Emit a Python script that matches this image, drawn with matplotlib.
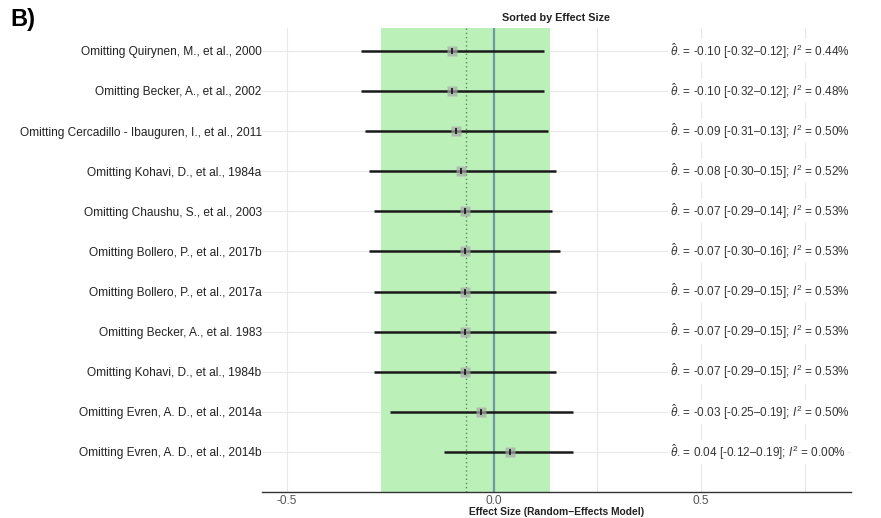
import matplotlib
matplotlib.use("Agg")
import matplotlib.pyplot as plt
from matplotlib.ticker import FixedLocator

plt.rcParams['font.family'] = ['Liberation Sans', 'DejaVu Sans']
plt.rcParams['mathtext.fontset'] = 'custom'
plt.rcParams['mathtext.rm'] = 'Liberation Sans'
plt.rcParams['mathtext.it'] = 'Liberation Sans:italic'

studies = [
    "Omitting Quirynen, M., et al., 2000",
    "Omitting Becker, A., et al., 2002",
    "Omitting Cercadillo - Ibauguren, I., et al., 2011",
    "Omitting Kohavi, D., et al., 1984a",
    "Omitting Chaushu, S., et al., 2003",
    "Omitting Bollero, P., et al., 2017b",
    "Omitting Bollero, P., et al., 2017a",
    "Omitting Becker, A., et al. 1983",
    "Omitting Kohavi, D., et al., 1984b",
    "Omitting Evren, A. D., et al., 2014a",
    "Omitting Evren, A. D., et al., 2014b",
]
estimate = [-0.10, -0.10, -0.09, -0.08, -0.07, -0.07, -0.07, -0.07, -0.07, -0.03, 0.04]
ci_lower = [-0.32, -0.32, -0.31, -0.30, -0.29, -0.30, -0.29, -0.29, -0.29, -0.25, -0.12]
ci_upper = [0.12, 0.12, 0.13, 0.15, 0.14, 0.16, 0.15, 0.15, 0.15, 0.19, 0.19]
i2 = [0.44, 0.48, 0.50, 0.52, 0.53, 0.53, 0.53, 0.53, 0.53, 0.50, 0.00]

pooled_estimate = -0.068
pooled_lower = -0.273
pooled_upper = 0.135

fig = plt.figure(figsize=(8.81, 5.18), dpi=100)
ax = fig.add_axes([0.297, 0.050, 0.669, 0.896])

n = len(studies)
ypos = [n - i for i in range(n)]

for y in ypos:
    ax.axhline(y, color='#e8e8e8', lw=0.8, zorder=0.6)

ax.axvspan(pooled_lower, pooled_upper, color='#bbf0b9', zorder=1, lw=0)
ax.axvline(pooled_estimate, color='#5a8a5a', ls=(0, (1, 2)), lw=1.0, zorder=2)
ax.axvline(0, color='#7096a8', lw=1.6, zorder=2)

for y, est, lo, hi in zip(ypos, estimate, ci_lower, ci_upper):
    ax.plot([lo, hi], [y, y], color='#1a1a1a', lw=1.8, zorder=3, solid_capstyle='butt')
    ax.plot(est, y, marker='s', ms=7, color='#a8a8a8', alpha=0.7, mec='none', zorder=4)
    ax.plot(est, y, marker='|', ms=5, mew=1.2, color='#111111', zorder=5)

for y, est, lo, hi, v in zip(ypos, estimate, ci_lower, ci_upper, i2):
    txt = (r"$\hat{\theta}$" + f". = {est:.2f} [{lo:.2f}\u2013{hi:.2f}]; "
           + r"$I^2$" + f" = {v:.2f}%")
    ax.text(0.425, y, txt, ha='left', va='center', fontsize=8.5, color='#333333',
            bbox=dict(facecolor='white', edgecolor='none', pad=1.5), zorder=6)

ax.set_xlim(-0.56, 0.862)
ax.set_ylim(0, 11.57)
ax.set_yticks(ypos)
ax.set_yticklabels(studies, fontsize=8.6, color='#222222')
ax.tick_params(axis='y', length=0, pad=0)

ax.xaxis.set_major_locator(FixedLocator([-0.5, 0.0, 0.5]))
ax.xaxis.set_minor_locator(FixedLocator([-0.25, 0.25, 0.75]))
ax.set_xticklabels(['-0.5', '0.0', '0.5'], fontsize=8.6, color='#555555')
ax.tick_params(axis='x', which='both', length=0, pad=2)
ax.grid(axis='x', which='both', color='#e8e8e8', lw=0.8)
ax.set_axisbelow(True)

for side in ['top', 'right', 'left']:
    ax.spines[side].set_visible(False)
ax.spines['bottom'].set_color('#333333')
ax.spines['bottom'].set_linewidth(1.0)
ax.spines['bottom'].set_zorder(7)

ax.set_xlabel('Effect Size (Random\u2212Effects Model)', fontsize=7.4, fontweight='bold',
              labelpad=0, color='#222222')
ax.set_title('Sorted by Effect Size', fontsize=7.8, fontweight='bold', pad=5,
             color='#222222')

fig.text(0.012, 0.985, 'B)', fontsize=17, fontweight='bold', ha='left', va='top')

fig.savefig('out.png', dpi=100)
